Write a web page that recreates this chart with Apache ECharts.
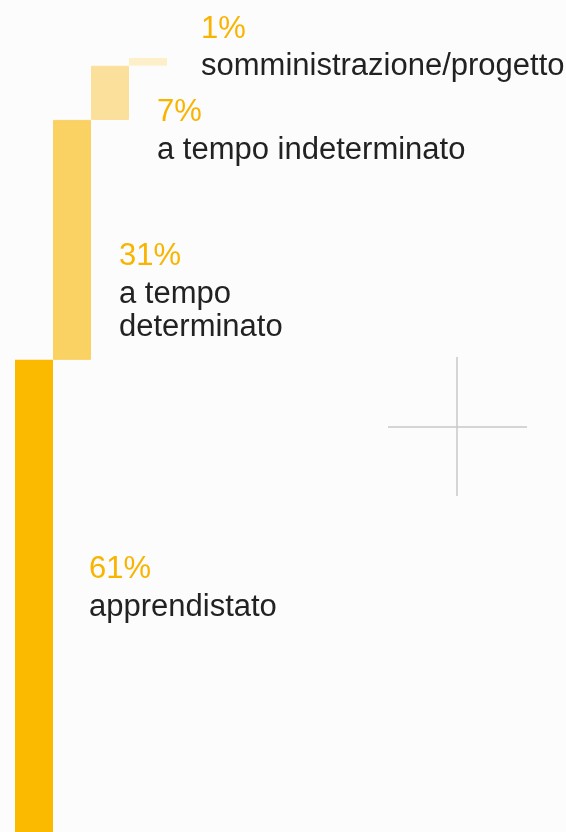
<!DOCTYPE html>
<html>
<head>
<meta charset="utf-8">
<script src="https://cdn.jsdelivr.net/npm/echarts@6/dist/echarts.min.js"></script>
<style>
html, body { margin: 0; padding: 0; background: #fcfcfc; }
#chart { width: 566px; height: 832px; }
</style>
</head>
<body>
<div id="chart"></div>
<script>
// contratti: quota percentuale per tipologia
var categories = ['apprendistato', 'a tempo\ndeterminato', 'a tempo indeterminato', 'somministrazione/progetto'];
var shares = [61, 31, 7, 1];

var barColors = ['#fbb900', '#fad264', '#fbe09b', '#fdefc9'];
var barBorders = [0, 1, 1, 3];
// label offset from each bar's top-left corner
var labelPos = [[74, 189], [66, 116], [66, 26], [72, -50]];

// base of each step = sum of the previous shares
var base = [];
var run = 0;
for (let i = 0; i < shares.length; i++) {
    base.push(run);
    run += shares[i];
}

var dom = document.getElementById('chart');
var myChart = echarts.init(dom);

var stepData = shares.map(function (v, i) {
    return {
        value: v,
        itemStyle: {
            color: barColors[i],
            borderColor: barColors[i],
            borderWidth: barBorders[i]
        },
        label: { position: labelPos[i] }
    };
});

var font = '"Liberation Sans", Arial, Helvetica, sans-serif';

option = {
    backgroundColor: '#fcfcfc',
    animation: false,
    grid: { left: 15, width: 152, top: 58, bottom: 0 },
    xAxis: {
        type: 'category',
        data: categories,
        show: false
    },
    yAxis: {
        type: 'value',
        min: 0,
        max: 100,
        show: false
    },
    series: [
        {
            type: 'bar',
            stack: 'step',
            data: base,
            barWidth: '100%',
            itemStyle: { color: 'transparent' },
            silent: true
        },
        {
            type: 'bar',
            stack: 'step',
            data: stepData,
            barWidth: '100%',
            label: {
                show: true,
                align: 'left',
                verticalAlign: 'top',
                fontFamily: font,
                formatter: function (p) {
                    var lines = categories[p.dataIndex].split('\n').map(function (s) {
                        return '{n|' + s + '}';
                    });
                    return '{p|' + p.value + '%}\n' + lines.join('\n');
                },
                rich: {
                    p: {
                        fontSize: 31,
                        lineHeight: 42,
                        color: '#f9b400',
                        fontFamily: font
                    },
                    n: {
                        fontSize: 31,
                        lineHeight: 33,
                        color: '#222222',
                        fontFamily: font
                    }
                }
            }
        }
    ],
    graphic: [
        {
            type: 'line',
            shape: { x1: 388, y1: 427, x2: 527, y2: 427 },
            style: { stroke: '#c8c8c8', lineWidth: 1.5 }
        },
        {
            type: 'line',
            shape: { x1: 457, y1: 357, x2: 457, y2: 496 },
            style: { stroke: '#c8c8c8', lineWidth: 1.5 }
        }
    ]
};

myChart.setOption(option, true);
</script>
</body>
</html>
